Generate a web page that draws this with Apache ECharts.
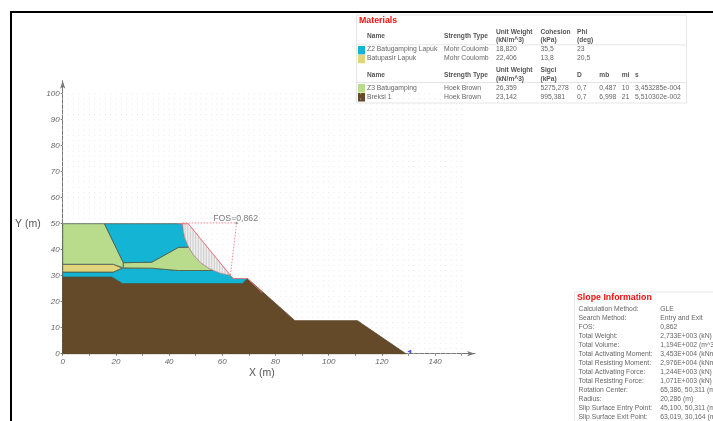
<!DOCTYPE html>
<html>
<head>
<meta charset="utf-8">
<style>html,body{margin:0;padding:0;background:#fff}#c{width:713px;height:421px;filter:blur(0.35px)}</style>
<script src="https://cdn.jsdelivr.net/npm/echarts@6/dist/echarts.min.js"></script>
</head>
<body>
<div id="c"></div>
<script>
const FONT = '"Liberation Sans", Arial, sans-serif';
const xTicks = [0,10,20,30,40,50,60,70,80,90,100,110,120,130,140,150];
const xLabels = [0,20,40,60,80,100,120,140];
const yTicks = [0,10,20,30,40,50,60,70,80,90,100];

const breksi = [[0,0],[0,29.5],[18.5,29.5],[22.5,27],[67.5,27],[69.5,28.9],[87.3,12.7],[110.8,12.7],[129,0]];
const blueLower = [[0,29.5],[0,31.4],[19,31.4],[22.5,32.9],[33.5,32.9],[43.5,32],[56.8,32],[63,30.2],[64,28.9],[69.5,28.9],[67.5,27],[22.5,27],[18.5,29.5]];
const yellow = [[0,31.4],[19,31.4],[22.3,32.9],[19,34.4],[0,34.4]];
const greenLeft = [[0,34.4],[19,34.4],[22.8,33],[22.8,35],[15.7,50],[0,50]];
const greenRight = [[22.8,33],[22.8,35],[33.5,35.2],[43.5,40.9],[47.36,41],[49.2,38],[51.9,35],[54.8,33],[56.8,32],[43.5,32],[33.5,32.9]];
const blueUpper = [[15.7,50],[45.1,50],[45.37,47],[46.1,44],[47.36,41],[43.5,40.9],[33.5,35.2],[22.8,35]];
const slipMass = [[45.1,50],[47.2,50],[63,30.2],[59.2,31],[56.8,32],[54.8,33],[51.9,35],[49.2,38],[47.36,41],[46.1,44],[45.37,47]];
const groundLine = [[43.5,50],[47.2,50],[63.5,29.5],[64.2,28.9],[69.5,28.9],[75,23.5]];
const radiusLine = [[45.1,50.311],[65.386,50.311],[63.019,30.164]];
const sliceX = [46,47,48,49,50,51,52,53,54,55,56,57,58,59,60,61,62];
const sliceTop = [50,50,48.76,47.53,46.29,45.05,43.81,42.58,41.34,40.1,38.86,37.63,36.39,35.15,33.91,32.68,31.44];
const sliceBottom = [44.33,41.74,39.86,38.35,37.09,36.01,35.07,34.24,33.52,32.89,32.33,31.84,31.42,31.06,30.75,30.5,30.31];
const rotationCenter = [65.386,50.311];
const fosLabel = 'FOS=0,862';
const endMarkers = [[-0.3,50.8],[130.3,0.8]];

const matHead1 = ['Name','Strength Type','Unit Weight\n(kN/m^3)','Cohesion\n(kPa)','Phi\n(deg)'];
const matRows1 = [
  ['Z2 Batugamping Lapuk','Mohr Coulomb','18,820','35,5','23'],
  ['Batupasir Lapuk','Mohr Coulomb','22,406','13,8','20,5']
];
const matHead2 = ['Name','Strength Type','Unit Weight\n(kN/m^3)','Sigci\n(kPa)','D','mb','mi','s'];
const matRows2 = [
  ['Z3 Batugamping','Hoek Brown','26,359','5275,278','0,7','0,487','10','3,453285e-004'],
  ['Breksi 1','Hoek Brown','23,142','995,381','0,7','6,998','21','5,510302e-002']
];
const swatches = ['#14b4d4','#e2d47a','#b9dc8c','#654a2a'];
const slopeLabels = ['Calculation Method:','Search Method:','FOS:','Total Weight:','Total Volume:','Total Activating Moment:','Total Resisting Moment:','Total Activating Force:','Total Resisting Force:','Rotation Center:','Radius:','Slip Surface Entry Point:','Slip Surface Exit Point:'];
const slopeValues = ['GLE','Entry and Exit','0,862','2,733E+003 (kN)','1,194E+002 (m^3)','3,453E+004 (kNm)','2,976E+004 (kNm)','1,244E+003 (kN)','1,071E+003 (kN)','65,386, 50,311 (m)','20,286 (m)','45,100, 50,311 (m)','63,019, 30,164 (m)'];

const gridDots = [];
for (let i = 0; i <= 75; i++) for (let j = 0; j <= 50; j++) gridDots.push([i * 2, j * 2]);

function poly(points, color, stroke, z) {
  return {
    type: 'custom', coordinateSystem: 'cartesian2d', z: z, silent: true, clip: false, data: points,
    renderItem: (p, api) => p.dataIndex ? null : ({
      type: 'polygon',
      shape: { points: points.map(q => api.coord(q)) },
      style: { fill: color, stroke: stroke, lineWidth: 0.8 }
    })
  };
}
function line(points, color, width, dash, z) {
  return {
    type: 'custom', coordinateSystem: 'cartesian2d', z: z, silent: true, clip: false, data: points,
    renderItem: (p, api) => p.dataIndex ? null : ({
      type: 'polyline',
      shape: { points: points.map(q => api.coord(q)) },
      style: { fill: 'none', stroke: color, lineWidth: width, lineDash: dash || null }
    })
  };
}
const edge = '#4a5a4a';
const series = [
  { type: 'scatter', data: gridDots, symbol: 'rect', symbolSize: 1, itemStyle: { color: '#e2e2e2' }, silent: true, z: 1, large: false },
  poly(breksi, swatches[3], '#5a4526', 3),
  poly(blueLower, swatches[0], edge, 4),
  poly(yellow, swatches[1], edge, 4),
  poly(greenLeft, swatches[2], edge, 4),
  poly(greenRight, swatches[2], edge, 4),
  poly(blueUpper, swatches[0], edge, 4),
  poly(slipMass, '#eeeeee', '#c98f9a', 5),
  {
    type: 'custom', coordinateSystem: 'cartesian2d', z: 6, silent: true,
    data: sliceX.map((x, i) => [x, sliceTop[i], sliceBottom[i]]),
    encode: { x: 0, y: 1 },
    renderItem: (p, api) => {
      const a = api.coord([api.value(0), api.value(1)]);
      const b = api.coord([api.value(0), api.value(2)]);
      return { type: 'line', shape: { x1: a[0], y1: a[1], x2: b[0], y2: b[1] }, style: { stroke: '#b4b4b4', lineWidth: 0.6 } };
    }
  },
  line(groundLine, '#f27a86', 0.9, null, 7),
  line(radiusLine, '#f27a86', 0.9, [1.5, 1.5], 7),
  {
    type: 'scatter', z: 8, data: [rotationCenter], symbol: 'circle', symbolSize: 2.5,
    itemStyle: { color: '#888' }, silent: true,
    label: { show: true, position: 'top', distance: 0, formatter: fosLabel, color: '#555', fontSize: 8.7, fontFamily: FONT, offset: [-1, 1] }
  },
  {
    type: 'scatter', z: 8, data: endMarkers, symbol: 'triangle', symbolRotate: 90, symbolSize: 4,
    itemStyle: { color: '#2222ee' }, silent: true
  }
];

const gfx = [];
function txt(x, y, s, o) {
  gfx.push({ type: 'text', x: x, y: y, silent: true, z: 20, style: Object.assign({ text: s, fill: '#666', fontSize: 6.8, fontFamily: FONT, textVerticalAlign: 'middle', lineHeight: 8.3 }, o || {}) });
}
function rect(x, y, w, h, fill, stroke, lw) {
  gfx.push({ type: 'rect', silent: true, z: 15, shape: { x: x, y: y, width: w, height: h }, style: { fill: fill, stroke: stroke || null, lineWidth: lw || 0 } });
}
rect(10, 11, 703, 2, '#000');
rect(10, 11, 2, 410, '#000');
rect(356.5, 15, 330, 88, '#fff', '#e6e6e6', 1);
rect(574.5, 292, 140, 130, '#fff', '#e6e6e6', 1);

const colsA = [367, 444, 496, 540.5, 577, 599.3, 621.7, 635];
txt(359, 21, 'Materials', { fill: '#ee1111', fontSize: 8.8, fontWeight: 'bold' });
matHead1.forEach((s, i) => txt(colsA[i], 36, s, { fontWeight: 'bold', fill: '#555', fontSize: 6.6 }));
rect(357, 44.5, 329, 0.7, '#ddd');
matRows1.forEach((r, k) => r.forEach((s, i) => txt(colsA[i], 49.3 + k * 9, s)));
matHead2.forEach((s, i) => txt(colsA[i], 74.7, s, { fontWeight: 'bold', fill: '#555', fontSize: 6.6 }));
rect(357, 82.3, 329, 0.7, '#ddd');
matRows2.forEach((r, k) => r.forEach((s, i) => txt(colsA[i], 87.7 + k * 9, s)));
[[358, 46, 0], [358, 54.7, 1], [358, 84, 2], [358, 93, 3]].forEach(a => rect(a[0], a[1], 7, 8.5, swatches[a[2]]));

txt(577, 298, 'Slope Information', { fill: '#ee1111', fontSize: 8.8, fontWeight: 'bold' });
slopeLabels.forEach((s, k) => { txt(578.5, 309 + k * 9, s); txt(660.3, 309 + k * 9, slopeValues[k]); });

txt(15, 224, 'Y (m)', { fontSize: 10.5, fill: '#555' });
txt(249, 373, 'X (m)', { fontSize: 10.5, fill: '#555' });

const axisCommon = {
  type: 'value', min: 0, splitLine: { show: false },
  axisLine: { show: true, onZero: false, symbol: ['none', 'arrow'], symbolSize: [4, 8], lineStyle: { color: '#777', width: 1 } },
};
const chart = echarts.init(document.getElementById('c'), null, { renderer: 'canvas' });
chart.setOption({
  animation: false,
  backgroundColor: '#fff',
  grid: { left: 62.7, top: 80.7, width: 412.3, height: 273 },
  xAxis: Object.assign({}, axisCommon, {
    max: 155,
    axisTick: { show: true, length: 2, inside: false, customValues: xTicks, lineStyle: { color: '#777' } },
    axisLabel: { customValues: xLabels, fontSize: 8, fontStyle: 'italic', color: '#666', margin: 4, fontFamily: FONT, hideOverlap: false }
  }),
  yAxis: Object.assign({}, axisCommon, {
    max: 105,
    axisTick: { show: true, length: 2, customValues: yTicks, lineStyle: { color: '#777' } },
    axisLabel: { customValues: yTicks, fontSize: 8, fontStyle: 'italic', color: '#666', margin: 3, fontFamily: FONT }
  }),
  series: series,
  graphic: { elements: gfx }
});
</script>
</body>
</html>
